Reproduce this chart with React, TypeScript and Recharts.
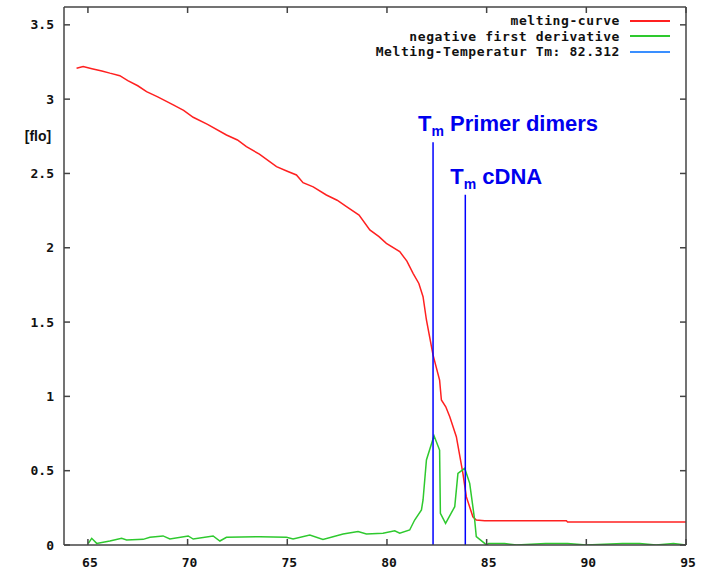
import { LineChart, Line, XAxis, YAxis, ReferenceLine, Legend } from 'recharts';

// melting curve (temperature, fluorescence)
const meltTemp = [
  64.43, 64.76, 65.2, 65.7, 66.1, 66.6, 67.0, 67.5, 67.94, 68.5, 69.28, 69.8, 70.28, 71.0, 71.95,
  72.5, 72.95, 73.6, 74.46, 75.0, 75.46, 75.79, 76.3, 76.96, 77.5, 77.97, 78.6, 79.14, 79.6, 79.97,
  80.64, 81.0, 81.31, 81.6, 81.81, 81.98, 82.31, 82.64, 82.73, 82.95, 83.15, 83.48, 83.81, 83.98,
  84.31, 84.48, 84.9, 89.0, 89.06, 95.0,
];
const meltFlo = [
  3.208, 3.219, 3.205, 3.19, 3.175, 3.158, 3.125, 3.09, 3.05, 3.015, 2.961, 2.925, 2.878, 2.83, 2.759,
  2.725, 2.68, 2.63, 2.546, 2.515, 2.49, 2.438, 2.41, 2.355, 2.32, 2.277, 2.22, 2.12, 2.075, 2.03,
  1.974, 1.91, 1.828, 1.76, 1.671, 1.514, 1.279, 1.11, 0.976, 0.93, 0.863, 0.729, 0.482, 0.325,
  0.19, 0.168, 0.163, 0.163, 0.155, 0.155,
];

// negative first derivative
const derivTemp = [
  65.02, 65.19, 65.44, 66.1, 66.69, 66.94, 67.77, 68.11, 68.77, 69.11, 70.03, 70.28, 71.28, 71.62,
  71.95, 73.62, 74.96, 75.29, 76.13, 76.79, 77.8, 78.55, 78.97, 79.8, 80.39, 80.64, 81.14, 81.39,
  81.73, 81.81, 81.98, 82.36, 82.64, 82.68, 82.94, 83.4, 83.56, 83.9, 84.15, 84.4, 84.48, 84.9,
  84.98, 85.1, 85.3, 85.6, 85.9, 86.5, 87.96, 88.56, 89.06, 90.0, 91.82, 92.67, 93.5, 94.37, 95.0,
];
const derivFlo = [
  0.011, 0.045, 0.011, 0.027, 0.045, 0.034, 0.038, 0.052, 0.061, 0.04, 0.061, 0.04, 0.061, 0.027,
  0.052, 0.056, 0.052, 0.04, 0.067, 0.038, 0.074, 0.09, 0.074, 0.079, 0.096, 0.079, 0.101, 0.168,
  0.236, 0.303, 0.572, 0.735, 0.639, 0.213, 0.146, 0.258, 0.482, 0.516, 0.415, 0.168, 0.056, 0.011,
  0, 0.01, 0.01, 0.01, 0.01, 0, 0.01, 0.01, 0.01, 0, 0.01, 0.01, 0, 0.01, 0,
];

const xTicks = [65, 70, 75, 80, 85, 90, 95];
const yTicks = [0, 0.5, 1, 1.5, 2, 2.5, 3, 3.5];

const tmPrimer = 82.312;
const tmPrimerTop = 2.71;
const tmCdna = 83.93;
const tmCdnaTop = 2.356;

const legendItems = [
  { label: 'melting-curve', color: '#ff2020' },
  { label: 'negative first derivative', color: '#2ec92e' },
  { label: 'Melting-Temperatur Tm: 82.312', color: '#3a8fff' },
];

const meltData = meltTemp.map((t, i) => ({ t, flo: meltFlo[i] }));
const derivData = derivTemp.map((t, i) => ({ t, flo: derivFlo[i] }));

const AXIS = '#444';
const MONO = '"DejaVu Sans Mono", monospace';
const SANS = '"Liberation Sans", Arial, sans-serif';

const BottomTick = (p: any) => (
  <g>
    <line x1={p.x} y1={p.y} x2={p.x} y2={p.y - 6} stroke={AXIS} strokeWidth={1.5} />
    <text x={p.x + 2} y={p.y + 22} textAnchor="middle" fontFamily={MONO} fontWeight="bold" fontSize={13} fill="#111">
      {p.payload.value}
    </text>
  </g>
);
const TopTick = (p: any) => (
  <line x1={p.x} y1={p.y} x2={p.x} y2={p.y + 6} stroke={AXIS} strokeWidth={1.5} />
);
const LeftTick = (p: any) => (
  <g>
    <line x1={p.x} y1={p.y} x2={p.x + 6} y2={p.y} stroke={AXIS} strokeWidth={1.5} />
    <text x={p.x - 10} y={p.y + 4.5} textAnchor="end" fontFamily={MONO} fontWeight="bold" fontSize={13} fill="#111">
      {p.payload.value}
    </text>
  </g>
);
const RightTick = (p: any) => (
  <line x1={p.x} y1={p.y} x2={p.x - 6} y2={p.y} stroke={AXIS} strokeWidth={1.5} />
);

const tmLabel = (name: string) => (props: any) => {
  const { viewBox } = props;
  const x = viewBox.x - 15;
  const y = viewBox.y - 11;
  return (
    <text x={x} y={y} fill="#0000ee" fontFamily={SANS} fontWeight="bold" fontSize={22}>
      <tspan>T</tspan>
      <tspan fontSize={14} dy={5}>m</tspan>
      <tspan dy={-5}>{' ' + name}</tspan>
    </text>
  );
};

const renderLegend = () => (
  <div style={{ fontFamily: MONO, fontWeight: 'bold', fontSize: 13, letterSpacing: 0.6, lineHeight: '15.5px', color: '#111' }}>
    {legendItems.map((item) => (
      <div key={item.label} style={{ display: 'flex', alignItems: 'center', justifyContent: 'flex-end' }}>
        <span>{item.label}</span>
        <span style={{ display: 'inline-block', width: 40, height: 2, background: item.color, marginLeft: 10 }} />
      </div>
    ))}
  </div>
);

export default function App() {
  return (
    <div style={{ position: 'absolute', left: 0, top: 0 }}>
      <LineChart width={708} height={569} margin={{ top: 6, right: 21, bottom: 4, left: 14 }}>
        <Line data={meltData} dataKey="flo" type="linear" stroke="#ff2020" strokeWidth={1.5} dot={false} isAnimationActive={false} />
        <Line data={derivData} dataKey="flo" type="linear" stroke="#2ec92e" strokeWidth={1.5} dot={false} isAnimationActive={false} />
        <ReferenceLine
          segment={[{ x: tmPrimer, y: 0 }, { x: tmPrimer, y: tmPrimerTop }]}
          stroke="#0000ff"
          strokeWidth={1.5}
          label={tmLabel('Primer dimers')}
        />
        <ReferenceLine
          segment={[{ x: tmCdna, y: 0 }, { x: tmCdna, y: tmCdnaTop }]}
          stroke="#0000ff"
          strokeWidth={1.5}
          label={tmLabel('cDNA')}
        />
        <XAxis
          dataKey="t"
          type="number"
          domain={[63.8, 95]}
          allowDataOverflow
          ticks={xTicks}
          interval={0}
          height={20}
          tickSize={0}
          tickMargin={0}
          tick={BottomTick}
          axisLine={{ stroke: AXIS, strokeWidth: 1.5 }}
        />
        <XAxis
          xAxisId="top"
          orientation="top"
          dataKey="t"
          type="number"
          domain={[63.8, 95]}
          allowDataOverflow
          ticks={xTicks}
          interval={0}
          height={1}
          tickSize={0}
          tickMargin={0}
          tick={TopTick}
          axisLine={{ stroke: AXIS, strokeWidth: 1.5 }}
        />
        <YAxis
          type="number"
          domain={[0, 3.62]}
          allowDataOverflow
          ticks={yTicks}
          interval={0}
          width={50}
          tickSize={0}
          tickMargin={0}
          tick={LeftTick}
          axisLine={{ stroke: AXIS, strokeWidth: 1.5 }}
          label={(props: any) => (
            <text x={props.viewBox.x + 24} y={props.viewBox.y + 134} textAnchor="middle" fontFamily={SANS} fontWeight="bold" fontSize={14} fill="#111">
              [flo]
            </text>
          )}
        />
        <YAxis
          yAxisId="right"
          orientation="right"
          type="number"
          domain={[0, 3.62]}
          allowDataOverflow
          ticks={yTicks}
          interval={0}
          width={1}
          tickSize={0}
          tickMargin={0}
          tick={RightTick}
          axisLine={{ stroke: AXIS, strokeWidth: 1.5 }}
        />
        <Legend
          layout="horizontal"
          verticalAlign="middle"
          content={renderLegend}
          wrapperStyle={{ top: 13, right: 38, left: 'auto', bottom: 'auto', width: 'auto' }}
        />
      </LineChart>
    </div>
  );
}
